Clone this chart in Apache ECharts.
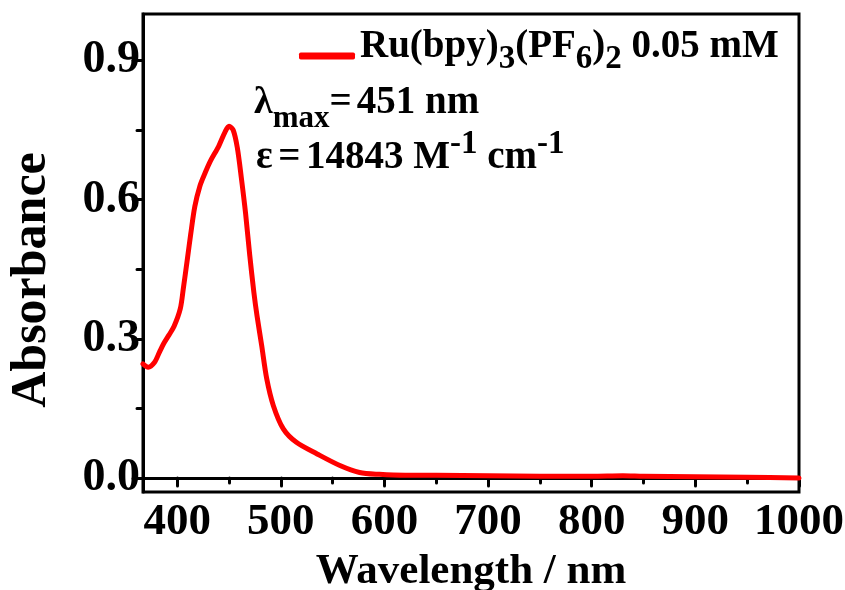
<!DOCTYPE html>
<html>
<head>
<meta charset="utf-8">
<script src="https://cdn.jsdelivr.net/npm/echarts@6/dist/echarts.min.js"></script>
<style>html,body{margin:0;padding:0;background:#fff}#c{width:845px;height:590px}</style>
</head>
<body>
<div id="c"></div>
<script>
const wavelength = [367,372,378,383,387,392,397,403,406,410,413,417,422,427,432,440,446,450,454,458,462,466,470,474,477,481.5,486.4,492.8,502.4,515,535,557,576,595,620,650,700,750,800,830,850,900,950,1000];
const absorbance = [0.246,0.239,0.249,0.272,0.290,0.308,0.327,0.365,0.410,0.475,0.525,0.585,0.630,0.658,0.683,0.715,0.745,0.758,0.750,0.712,0.645,0.570,0.480,0.400,0.350,0.286,0.214,0.156,0.106,0.077,0.052,0.027,0.012,0.008,0.006,0.006,0.005,0.004,0.004,0.005,0.004,0.003,0.002,0.000];
const xTickValues = [400,500,600,700,800,900,1000];
const xMinorTicks = [450,550,650,750,850,950];
const yTickValues = [0,0.3,0.6,0.9];
const yMinorTicks = [0.15,0.45,0.75];
const seriesName = 'Ru(bpy)3(PF6)2 0.05 mM';

const FONT = '"Liberation Serif","Times New Roman",serif';
const chart = echarts.init(document.getElementById('c'));
const axisBase = {
  min: 367, max: 1000, type: 'value', splitLine: {show: false}
};
chart.setOption({
  animation: false,
  backgroundColor: '#fff',
  grid: {left: 143, right: 46, top: 14, bottom: 98, show: true, borderColor: '#000', borderWidth: 3, containLabel: false, outerBoundsMode: 'none'},
  legend: {
    left: 294, top: 22, icon: 'roundRect', itemWidth: 56, itemHeight: 7, itemGap: 0,
    formatter: () => '{n|Ru(bpy)}{s|3}{n|(PF}{s|6}{n|)}{s|2}{n| 0.05 mM}',
    textStyle: {
      fontFamily: FONT, fontWeight: 'bold', color: '#000',
      rich: {
        n: {fontFamily: FONT, fontWeight: 'bold', fontSize: 39, color: '#000', verticalAlign: 'bottom', lineHeight: 40, padding: [0,0,10,0]},
        s: {fontFamily: FONT, fontWeight: 'bold', fontSize: 33, color: '#000', verticalAlign: 'bottom', lineHeight: 34, padding: [0,0,0,0]}
      }
    }
  },
  xAxis: [
    Object.assign({}, axisBase, {
      position: 'bottom',
      name: 'Wavelength / nm', nameLocation: 'middle', nameGap: 57,
      nameTextStyle: {fontFamily: FONT, fontWeight: 'bold', fontSize: 43, color: '#000'},
      axisLine: {show: true, lineStyle: {color: '#000', width: 3}},
      axisTick: {show: true, inside: false, length: 8, lineStyle: {width: 3, color: '#000', cap: 'round'}, customValues: xTickValues},
      axisLabel: {customValues: xTickValues, formatter: v => String(v), fontFamily: FONT, fontWeight: 'bold', fontSize: 45, color: '#000', margin: 8}
    }),
    Object.assign({}, axisBase, {
      position: 'bottom',
      axisLine: {show: false},
      axisTick: {show: true, inside: false, length: 5, lineStyle: {width: 3, color: '#000', cap: 'round'}, customValues: xMinorTicks},
      axisLabel: {show: false}
    })
  ],
  yAxis: [
    {
      type: 'value', min: -0.03, max: 1.0, position: 'left', splitLine: {show: false},
      name: 'Absorbance', nameLocation: 'middle', nameGap: 86, nameRotate: 90,
      nameTextStyle: {fontFamily: FONT, fontWeight: 'bold', fontSize: 50, color: '#000', padding: [0, 54, 0, 0]},
      axisLine: {show: true, lineStyle: {color: '#000', width: 3}},
      axisTick: {show: true, inside: false, length: 10, lineStyle: {width: 3, color: '#000', cap: 'round'}, customValues: yTickValues},
      axisLabel: {customValues: yTickValues, formatter: v => v.toFixed(1), fontFamily: FONT, fontWeight: 'bold', fontSize: 46, color: '#000', margin: 3}
    },
    {
      type: 'value', min: -0.03, max: 1.0, position: 'left', splitLine: {show: false},
      axisLine: {show: false},
      axisTick: {show: true, inside: false, length: 6, lineStyle: {width: 3, color: '#000', cap: 'round'}, customValues: yMinorTicks},
      axisLabel: {show: false}
    }
  ],
  graphic: [
    {
      type: 'text', left: 254, top: 83, z: 10,
      style: {
        text: '{g|λ}{sub|max}{n|=}{sp| }{n|451 nm}',
        rich: {
          g: {fontFamily: FONT, fontWeight: 'bold', fontSize: 38, fill: '#000', verticalAlign: 'bottom', lineHeight: 40, padding: [0,0,12,0]},
          sub: {fontFamily: FONT, fontWeight: 'bold', fontSize: 31, fill: '#000', verticalAlign: 'bottom', lineHeight: 34, padding: [0,0,0,0]},
          sp: {fontFamily: FONT, fontWeight: 'bold', fontSize: 20, fill: '#000', verticalAlign: 'bottom', lineHeight: 40, padding: [0,0,12,0]},
          n: {fontFamily: FONT, fontWeight: 'bold', fontSize: 39, fill: '#000', verticalAlign: 'bottom', lineHeight: 40, padding: [0,0,12,0]}
        }
      }
    },
    {
      type: 'text', left: 256, top: 128, z: 10,
      style: {
        text: '{n|ε}{sp| }{n|=}{sp| }{n|14843 M}{sup|-1}{n| cm}{sup|-1}',
        rich: {
          n: {fontFamily: FONT, fontWeight: 'bold', fontSize: 39, fill: '#000', verticalAlign: 'bottom', lineHeight: 40, padding: [0,0,0,0]},
          sp: {fontFamily: FONT, fontWeight: 'bold', fontSize: 22, fill: '#000', verticalAlign: 'bottom', lineHeight: 40, padding: [0,0,0,0]},
          sup: {fontFamily: FONT, fontWeight: 'bold', fontSize: 33, fill: '#000', verticalAlign: 'bottom', lineHeight: 34, padding: [0,0,16,0]}
        }
      }
    }
  ],
  series: [{
    name: seriesName, type: 'line', xAxisIndex: 0, yAxisIndex: 0,
    data: wavelength.map((w, i) => [w, absorbance[i]]),
    smooth: 0.3, showSymbol: false, symbol: 'none',
    lineStyle: {color: '#ff0000', width: 5, cap: 'round', join: 'round'},
    itemStyle: {color: '#ff0000'}
  }]
});
</script>
</body>
</html>
